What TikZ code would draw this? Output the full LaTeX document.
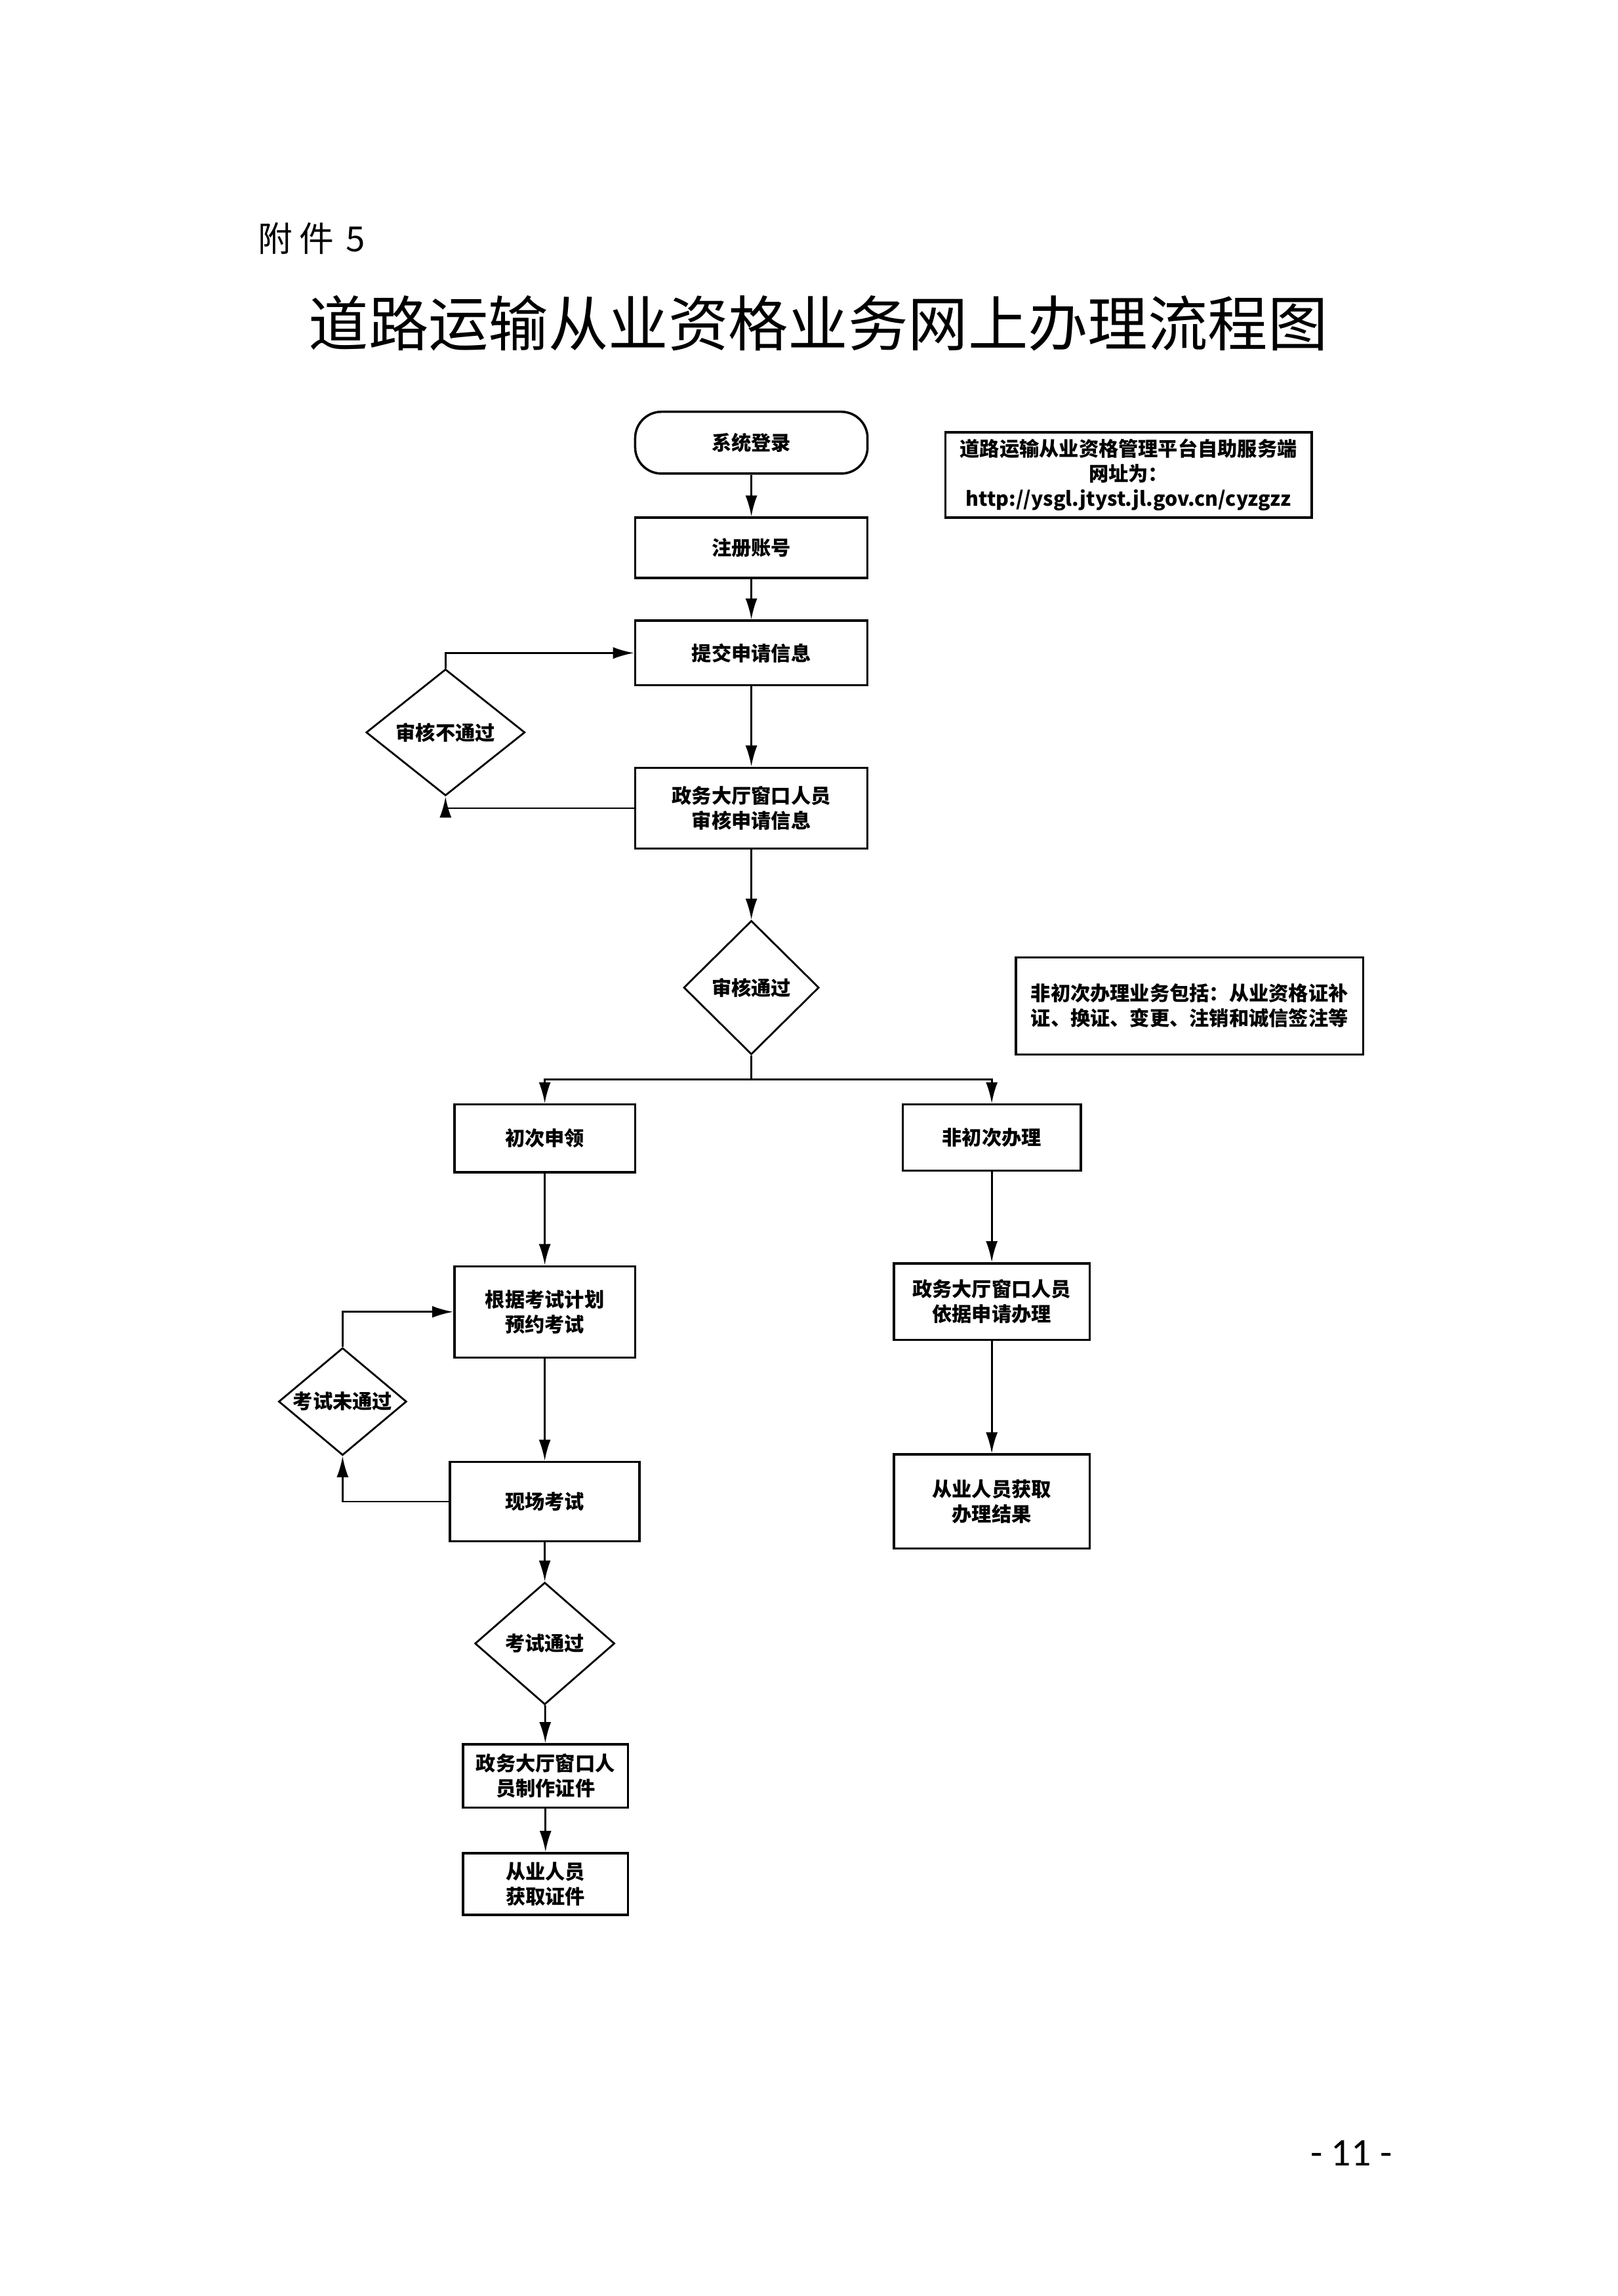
\documentclass[tikz,border=0pt]{standalone}
\usepackage{fontspec}
\setmainfont{Noto Sans CJK SC}
\newfontfamily\pagefont{Carlito}
\usetikzlibrary{shapes.geometric,arrows.meta}

\begin{document}
\begin{tikzpicture}[x=0.022418cm,y=-0.022418cm,>={Latex[length=3.2mm,width=1.8mm]}]
 \newcommand{\boxfont}{\bfseries\fontsize{8.6}{10.8}\selectfont}
 \tikzstyle{stepbox} = [draw,line width=1pt,font=\boxfont,align=center,inner sep=1pt]
 \tikzstyle{decision} = [draw,diamond,line width=0.8pt,font=\boxfont,inner sep=0pt,aspect=1.2]
 \tikzstyle{notebox} = [draw,line width=1pt,font=\boxfont,inner sep=2pt]
 \tikzstyle{flow} = [->,line width=0.8pt]
 \useasboundingbox[fill=white] (0,0) rectangle (1100,1561.2);

 % headings
 \node[anchor=west,font=\fontsize{15}{18}\selectfont] (annex) at (170,162) {附\hspace{3pt}件\hspace{5pt}5};
 \node[font=\fontsize{26}{30}\selectfont] (title) at (556.5,220) {道路运输从业资格业务网上办理流程图};

 % main column
 \node[stepbox,rounded corners=0.4cm,minimum width=3.542cm,minimum height=0.942cm] (login) at (511,301) {系统登录};
 \node[stepbox,minimum width=3.542cm,minimum height=0.919cm] (reg) at (511,372.5) {注册账号};
 \node[stepbox,minimum width=3.542cm,minimum height=0.986cm] (submit) at (511,444) {提交申请信息};
 \node[stepbox,minimum width=3.542cm,minimum height=1.233cm] (review) at (511,549.5) {政务大厅窗口人员\\审核申请信息};
 \node[decision,minimum width=2.421cm,minimum height=1.928cm] (reject) at (303,498) {审核不通过};
 \node[decision,minimum width=2.062cm,minimum height=2.040cm] (pass) at (511,671.5) {审核通过};

 % notes
 \node[notebox,align=center,minimum width=5.582cm,minimum height=1.300cm] (urlnote) at (767.5,323)
   {道路运输从业资格管理平台自助服务端\\网址为：\\http://ysgl.jtyst.jl.gov.cn/cyzgzz};
 \node[notebox,align=left,minimum width=5.291cm,minimum height=1.480cm] (scopenote) at (809,684)
   {非初次办理业务包括：从业资格证补\\证、换证、变更、注销和诚信签注等};

 % first application branch
 \node[stepbox,minimum width=2.757cm,minimum height=1.031cm] (first) at (370.5,774) {初次申领};
 \node[stepbox,minimum width=2.757cm,minimum height=1.390cm] (book) at (370.5,892) {根据考试计划\\预约考试};
 \node[decision,aspect=1.19,minimum width=1.950cm,minimum height=1.637cm] (fail) at (233,953) {考试未通过};
 \node[stepbox,minimum width=2.892cm,minimum height=1.211cm] (exam) at (370.5,1021) {现场考试};
 \node[decision,minimum width=2.130cm,minimum height=1.861cm] (passexam) at (370.5,1117.5) {考试通过};
 \node[stepbox,minimum width=2.511cm,minimum height=0.964cm] (make) at (371,1207.5) {政务大厅窗口人\\员制作证件};
 \node[stepbox,minimum width=2.511cm,minimum height=0.942cm] (get) at (371,1281) {从业人员\\获取证件};

 % other business branch
 \node[stepbox,minimum width=2.713cm,minimum height=1.009cm] (nonfirst) at (674.5,773.5) {非初次办理};
 \node[stepbox,minimum width=2.982cm,minimum height=1.166cm] (handle) at (674.5,885) {政务大厅窗口人员\\依据申请办理};
 \node[stepbox,minimum width=2.982cm,minimum height=1.435cm] (result) at (674.5,1021) {从业人员获取\\办理结果};

 \node[font=\pagefont\fontsize{17}{20}\selectfont] (pageno) at (919,1464) {- 11 -};

 % connectors
 \draw[flow] (login) -- (reg);
 \draw[flow] (reg) -- (submit);
 \draw[flow] (submit) -- (review);
 \draw[flow] (review.west) -| (reject.south);
 \draw[flow] (reject.north) |- (submit.west);
 \draw[flow] (review) -- (pass);
 \coordinate (split) at (511,734);
 \draw[line width=0.8pt] (pass.south) -- (split);
 \draw[flow] (split) -| (first.north);
 \draw[flow] (split) -| (nonfirst.north);
 \draw[flow] (first) -- (book);
 \draw[flow] (book) -- (exam);
 \draw[flow] (exam.west) -| (fail.south);
 \draw[flow] (fail.north) |- (book.west);
 \draw[flow] (exam) -- (passexam);
 \draw[flow] (passexam) -- (make);
 \draw[flow] (make) -- (get);
 \draw[flow] (nonfirst) -- (handle);
 \draw[flow] (handle) -- (result);
\end{tikzpicture}
\end{document}
